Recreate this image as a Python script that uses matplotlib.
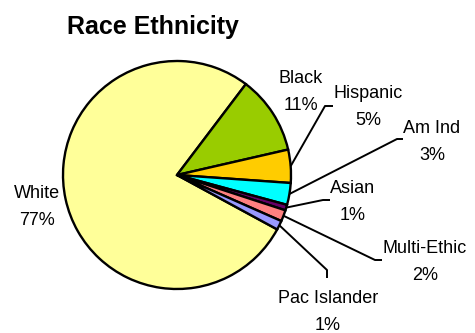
import numpy as np
import matplotlib
matplotlib.use("Agg")
import matplotlib.pyplot as plt

plt.rcParams['font.family'] = ['Liberation Sans', 'DejaVu Sans']

# data
groups = ['White', 'Black', 'Hispanic', 'Am Ind', 'Asian', 'Multi-Ethic', 'Pac Islander']
shares = [77.4, 11.1, 4.7, 3.1, 0.8, 1.6, 1.3]
colors = ['#FFFF99', '#99CC00', '#FFCC00', '#00FFFF', '#660066', '#FF8080', '#9999FF']

W, H = 475, 333

# label layout in pixel coords (x centre, baseline of first line)
label_pos = {
    'White': (37, 198),
    'Black': (301, 83),
    'Hispanic': (368, 98),
    'Am Ind': (432, 133),
    'Asian': (353, 193),
    'Multi-Ethic': (425, 253),
    'Pac Islander': (328, 303),
}
# leader line elbows / ends (pixel coords)
leaders = {
    'Hispanic': [(325, 106), (333, 106)],
    'Am Ind': [(397, 139), (403, 139)],
    'Asian': [(323, 200), (330, 200)],
    'Multi-Ethic': [(375, 260), (382, 260)],
    'Pac Islander': [(327, 270), (327, 278)],
}

cx, cy, r = 177, 175, 114
start = -28.5


def px(x, y):
    return x, H - y


fig = plt.figure(figsize=(W / 100, H / 100), dpi=100)
ax = fig.add_axes([0, 0, 1, 1])

wedges, _ = ax.pie(shares, colors=colors, startangle=start, counterclock=False,
                   center=px(cx, cy), radius=r, frame=True,
                   wedgeprops=dict(edgecolor='black', linewidth=1.7))
ax.set_xlim(0, W)
ax.set_ylim(0, H)
ax.set_aspect('equal')
ax.axis('off')

line_gap = 27
for g, v, w in zip(groups, shares, wedges):
    x, y = label_pos[g]
    ax.text(*px(x, y), g, ha='center', va='baseline', fontsize=13)
    ax.text(*px(x, y + line_gap), f"{round(v)}%", ha='center', va='baseline', fontsize=13)
    if g in leaders:
        mid = np.deg2rad((w.theta1 + w.theta2) / 2)
        wx, wy = w.center
        pts = [(wx + r * np.cos(mid), wy + r * np.sin(mid))]
        pts += [px(a, b) for a, b in leaders[g]]
        xs, ys = zip(*pts)
        ax.plot(xs, ys, color='black', linewidth=1.4, solid_capstyle='butt')

ax.text(*px(153, 34), 'Race Ethnicity', ha='center', va='baseline',
        fontsize=18, fontweight='bold')

fig.savefig('out.png', dpi=100)
